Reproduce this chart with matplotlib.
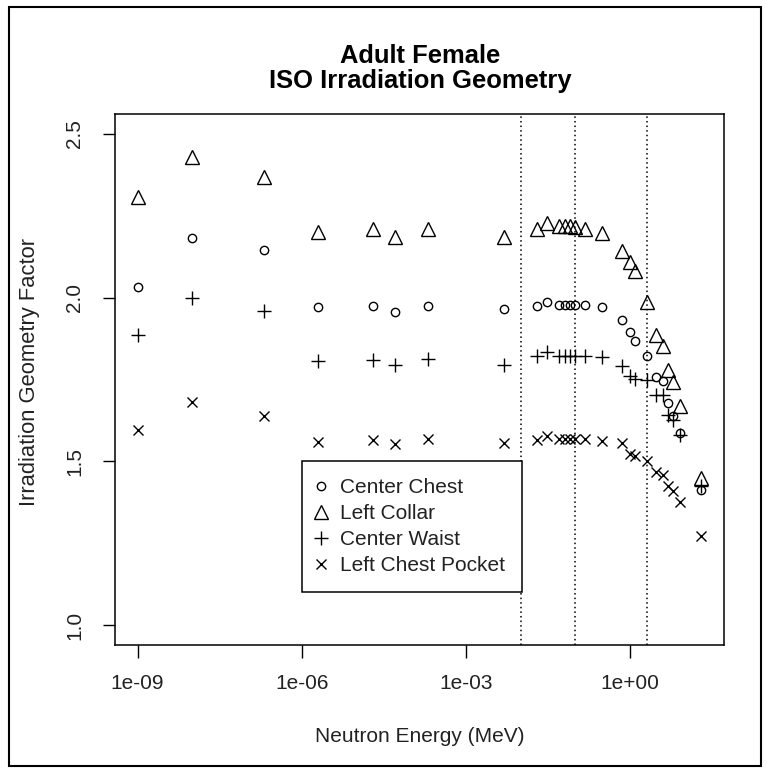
import matplotlib
matplotlib.use("Agg")
import matplotlib.pyplot as plt
import matplotlib.patches as patches
import numpy as np

plt.rcParams['font.family'] = ['Liberation Sans', 'DejaVu Sans']

# Neutron energies (MeV)
energy = [1e-9, 1e-8, 2e-7, 2e-6, 2e-5, 5e-5, 2e-4, 5e-3,
          0.02, 0.03, 0.05, 0.065, 0.08, 0.1, 0.15, 0.3,
          0.7, 1.0, 1.2, 2, 3, 4, 5, 6, 8, 20]

center_chest = [2.031, 2.183, 2.146, 1.970, 1.975, 1.957, 1.975, 1.965,
                1.975, 1.985, 1.978, 1.978, 1.978, 1.978, 1.978, 1.970,
                1.931, 1.895, 1.866, 1.823, 1.757, 1.746, 1.679, 1.639, 1.588, 1.413]

left_collar = [2.308, 2.428, 2.367, 2.201, 2.209, 2.186, 2.209, 2.186,
               2.209, 2.227, 2.217, 2.217, 2.219, 2.214, 2.209, 2.196,
               2.143, 2.107, 2.082, 1.986, 1.886, 1.853, 1.778, 1.741, 1.669, 1.449]

center_waist = [1.887, 2.000, 1.960, 1.807, 1.811, 1.794, 1.814, 1.795,
                1.822, 1.835, 1.822, 1.822, 1.822, 1.822, 1.822, 1.820,
                1.792, 1.761, 1.751, 1.750, 1.703, 1.702, 1.642, 1.627, 1.580, 1.425]

left_chest_pocket = [1.596, 1.682, 1.638, 1.560, 1.566, 1.553, 1.568, 1.557,
                     1.566, 1.578, 1.568, 1.568, 1.568, 1.568, 1.568, 1.563,
                     1.557, 1.524, 1.517, 1.501, 1.468, 1.458, 1.425, 1.410, 1.376, 1.272]

series_labels = ["Center Chest", "Left Collar", "Center Waist", "Left Chest Pocket"]
ref_lines = [0.01, 0.1, 2]
x_ticks = [1e-9, 1e-6, 1e-3, 1]
x_tick_labels = ["1e-09", "1e-06", "1e-03", "1e+00"]
y_ticks = [1.0, 1.5, 2.0, 2.5]
y_tick_labels = ["1.0", "1.5", "2.0", "2.5"]

W, H = 767, 772
fig = plt.figure(figsize=(W / 100, H / 100), dpi=100)
ax = fig.add_axes([115 / W, 1 - 645 / H, (724 - 115) / W, (645 - 114) / H])

# outer frame around the whole figure
fig.patches.append(patches.Rectangle((9 / W, 1 - 766 / H), (761 - 9) / W, (766 - 7) / H,
                                     transform=fig.transFigure, fill=False,
                                     edgecolor='black', linewidth=1.5))

for xv in ref_lines:
    ax.axvline(xv, color='black', linestyle=(0, (1, 2)), linewidth=1.1, zorder=1)

styles = [
    dict(marker='o', markersize=6, markerfacecolor='none'),
    dict(marker='^', markersize=10, markerfacecolor='none'),
    dict(marker='+', markersize=10),
    dict(marker='x', markersize=7.5),
]
all_series = [center_chest, left_collar, center_waist, left_chest_pocket]
for vals, lab, st in zip(all_series, series_labels, styles):
    ax.plot(energy, vals, linestyle='none', color='black', markeredgecolor='black',
            markeredgewidth=1.0, label=lab, zorder=3, **st)

ax.set_xscale('log')
lo, hi = np.log10(energy[0]), np.log10(energy[-1])
pad = 0.04 * (hi - lo)
ax.set_xlim(10 ** (lo - pad), 10 ** (hi + pad))
ax.set_ylim(1.0 - 0.06, 2.5 + 0.06)

ax.set_xticks(x_ticks)
ax.set_xticklabels(x_tick_labels)
ax.xaxis.set_minor_locator(matplotlib.ticker.NullLocator())
ax.set_yticks(y_ticks)
ax.set_yticklabels(y_tick_labels, rotation=90, va='center')
ax.tick_params(axis='both', length=9, width=1.0, labelsize=15, color='black',
               labelcolor='#222222')
ax.tick_params(axis='x', pad=12)
ax.tick_params(axis='y', pad=13)
for sp in ax.spines.values():
    sp.set_linewidth(1.1)

ax.set_xlabel("Neutron Energy (MeV)", fontsize=15, color='#222222')
ax.set_ylabel("Irradiation Geometry Factor", fontsize=15.8, color='#222222')
ax.xaxis.set_label_coords(0.5, (645 - 727) / 531)
ax.yaxis.set_label_coords((40 - 115) / 609, 0.515)

fig.text(420 / W, 1 - 63 / H, "Adult Female", ha='center', va='baseline',
         fontsize=18.4, fontweight='bold')
fig.text(420 / W, 1 - 88 / H, "ISO Irradiation Geometry", ha='center', va='baseline',
         fontsize=18.4, fontweight='bold')

leg = ax.legend(loc='upper left', bbox_to_anchor=(1e-6, 1.5), bbox_transform=ax.transData,
                borderaxespad=0, fancybox=False, edgecolor='black', framealpha=1,
                fontsize=15, borderpad=0.8, handlelength=0.25, handletextpad=0.8,
                labelspacing=0.34)
leg.get_frame().set_linewidth(1.1)
for t in leg.get_texts():
    t.set_color('#222222')

fig.savefig("out.png", dpi=100)
